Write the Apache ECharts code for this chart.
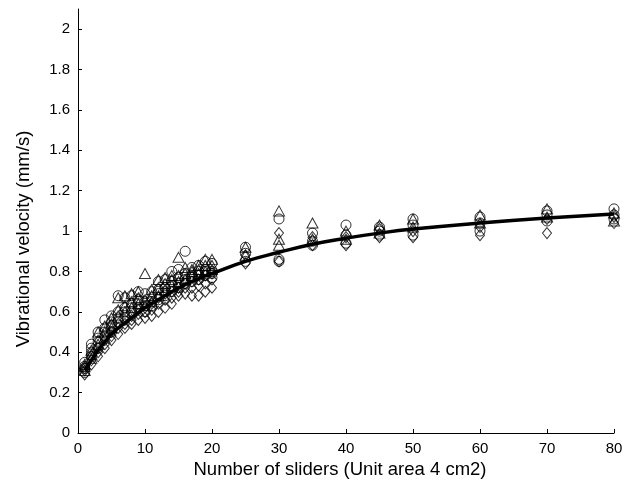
<!DOCTYPE html>
<html>
<head>
<meta charset="utf-8">
<script src="https://cdn.jsdelivr.net/npm/echarts@6/dist/echarts.min.js"></script>
<style>
html,body{margin:0;padding:0;background:#fff;}
#chart{width:636px;height:490px;}
</style>
</head>
<body>
<div id="chart"></div>
<script>
// ---- data ----
var fitX = [1,2,3,4,5,6,8,10,12,14,16,18,20,25,30,35,40,45,50,60,70,80];
var fitY = [0.31,0.36,0.41,0.45,0.49,0.52,0.57,0.62,0.66,0.70,0.735,0.765,0.79,0.85,0.895,0.935,0.965,0.99,1.01,1.04,1.065,1.085];

var circleX = [1,1,1,1,2,2,2,2,3,3,3,3,4,4,4,4,5,5,5,5,6,6,6,6,7,7,7,7,8,8,8,8,9,9,9,9,10,10,10,10,11,11,11,11,12,12,12,12,13,13,13,13,14,14,14,14,15,15,15,15,16,16,16,16,17,17,17,17,18,18,18,18,19,19,19,19,20,20,20,20,25,25,25,30,30,30,35,35,35,40,40,40,45,45,45,50,50,50,60,60,60,70,70,70,80,80,80];
var circleY = [0.30,0.32,0.33,0.35,0.38,0.40,0.42,0.44,0.42,0.45,0.47,0.50,0.48,0.50,0.52,0.56,0.50,0.53,0.55,0.58,0.55,0.57,0.60,0.68,0.57,0.60,0.62,0.67,0.60,0.62,0.64,0.68,0.62,0.64,0.66,0.70,0.60,0.63,0.65,0.69,0.63,0.65,0.67,0.70,0.66,0.69,0.71,0.75,0.68,0.70,0.72,0.76,0.70,0.73,0.75,0.80,0.72,0.74,0.77,0.81,0.74,0.76,0.79,0.90,0.75,0.77,0.78,0.82,0.76,0.78,0.80,0.83,0.78,0.80,0.81,0.85,0.77,0.79,0.80,0.84,0.85,0.89,0.92,0.85,0.86,1.06,0.93,0.95,0.99,0.94,0.98,1.03,0.98,1.00,1.02,0.98,1.03,1.06,1.00,1.04,1.07,1.05,1.08,1.10,1.06,1.08,1.11];

var triangleX = [1,1,1,2,2,2,3,3,3,4,4,4,5,5,5,6,6,6,7,7,7,8,8,8,9,9,9,10,10,10,11,11,11,12,12,12,13,13,13,14,14,14,15,15,15,16,16,16,17,17,17,18,18,18,19,19,19,20,20,20,25,25,30,30,30,35,35,40,40,45,45,50,50,60,60,70,70,80,80];
var triangleY = [0.31,0.33,0.34,0.37,0.39,0.41,0.44,0.46,0.50,0.47,0.50,0.53,0.52,0.54,0.57,0.58,0.61,0.67,0.60,0.63,0.68,0.62,0.65,0.69,0.64,0.67,0.70,0.63,0.66,0.79,0.65,0.68,0.71,0.68,0.72,0.76,0.71,0.74,0.77,0.73,0.76,0.78,0.75,0.78,0.87,0.76,0.79,0.82,0.78,0.80,0.81,0.79,0.81,0.83,0.80,0.83,0.86,0.81,0.83,0.86,0.88,0.92,0.93,0.96,1.10,0.96,1.04,0.96,1.00,0.99,1.03,1.02,1.06,1.04,1.08,1.07,1.11,1.05,1.09];

var diamondX = [1,1,1,2,2,2,3,3,3,4,4,4,5,5,5,6,6,6,7,7,7,8,8,8,9,9,9,10,10,10,11,11,11,12,12,12,13,13,13,14,14,14,15,15,15,16,16,16,17,17,17,18,18,18,19,19,19,20,20,20,25,25,30,30,35,35,40,40,45,45,50,50,60,60,70,70,80,80];
var diamondY = [0.29,0.31,0.32,0.34,0.36,0.38,0.38,0.40,0.42,0.42,0.44,0.46,0.46,0.48,0.50,0.49,0.52,0.54,0.52,0.54,0.56,0.54,0.56,0.58,0.56,0.59,0.61,0.57,0.60,0.62,0.58,0.61,0.64,0.60,0.64,0.67,0.62,0.66,0.69,0.64,0.67,0.70,0.68,0.70,0.72,0.69,0.72,0.74,0.68,0.72,0.75,0.68,0.73,0.76,0.70,0.74,0.78,0.72,0.76,0.79,0.84,0.88,0.85,0.99,0.93,0.97,0.93,0.97,0.97,1.01,0.97,1.00,0.98,1.02,0.99,1.06,1.04,1.07];

var yTicks = [0,0.2,0.4,0.6,0.8,1,1.2,1.4,1.6,1.8,2];

function pairs(xs, ys){ return xs.map(function(x,i){ return [x, ys[i]]; }); }

var font = '"Liberation Sans", Arial, Helvetica, sans-serif';
var marker = { color: 'rgba(0,0,0,0)', borderColor: '#000', borderWidth: 1 };

var chart = echarts.init(document.getElementById('chart'), null, {renderer:'canvas'});
chart.setOption({
  animation: false,
  backgroundColor: '#fff',
  grid: { left: 78, right: 22, top: 9, bottom: 57, containLabel: false },
  xAxis: {
    type: 'value', min: 0, max: 80, interval: 10,
    name: 'Number of sliders (Unit area 4 cm2)',
    nameLocation: 'middle', nameGap: 24,
    nameTextStyle: { fontFamily: font, fontSize: 18.5, color: '#000', padding: [0, 12, 0, 0] },
    axisLine: { show: true, onZero: false, lineStyle: { color: '#000', width: 1 } },
    axisTick: { show: true, inside: true, length: 4, lineStyle: { color: '#000' } },
    axisLabel: { fontFamily: font, fontSize: 15, color: '#000', margin: 8 },
    splitLine: { show: false }
  },
  yAxis: {
    type: 'value', min: 0, max: 2.1,
    name: 'Vibrational velocity (mm/s)',
    nameLocation: 'middle', nameGap: 45,
    nameTextStyle: { fontFamily: font, fontSize: 18.5, color: '#000', padding: [0, 36, 0, 0] },
    axisLine: { show: true, onZero: false, lineStyle: { color: '#000', width: 1 } },
    axisTick: { show: true, inside: true, length: 4, lineStyle: { color: '#000' }, customValues: yTicks },
    axisLabel: { fontFamily: font, fontSize: 15, color: '#000', margin: 8, customValues: yTicks },
    splitLine: { show: false }
  },
  series: [
    { type: 'scatter', symbol: 'circle', symbolSize: 10, data: pairs(circleX, circleY), itemStyle: marker, z: 2 },
    { type: 'scatter', symbol: 'triangle', symbolSize: [11, 10], data: pairs(triangleX, triangleY), itemStyle: marker, z: 2 },
    { type: 'scatter', symbol: 'diamond', symbolSize: [9, 11], data: pairs(diamondX, diamondY), itemStyle: marker, z: 2 },
    { type: 'line', smooth: true, showSymbol: false, symbol: 'none', data: pairs(fitX, fitY),
      lineStyle: { color: '#000', width: 3.5 }, z: 5 }
  ]
});
</script>
</body>
</html>
